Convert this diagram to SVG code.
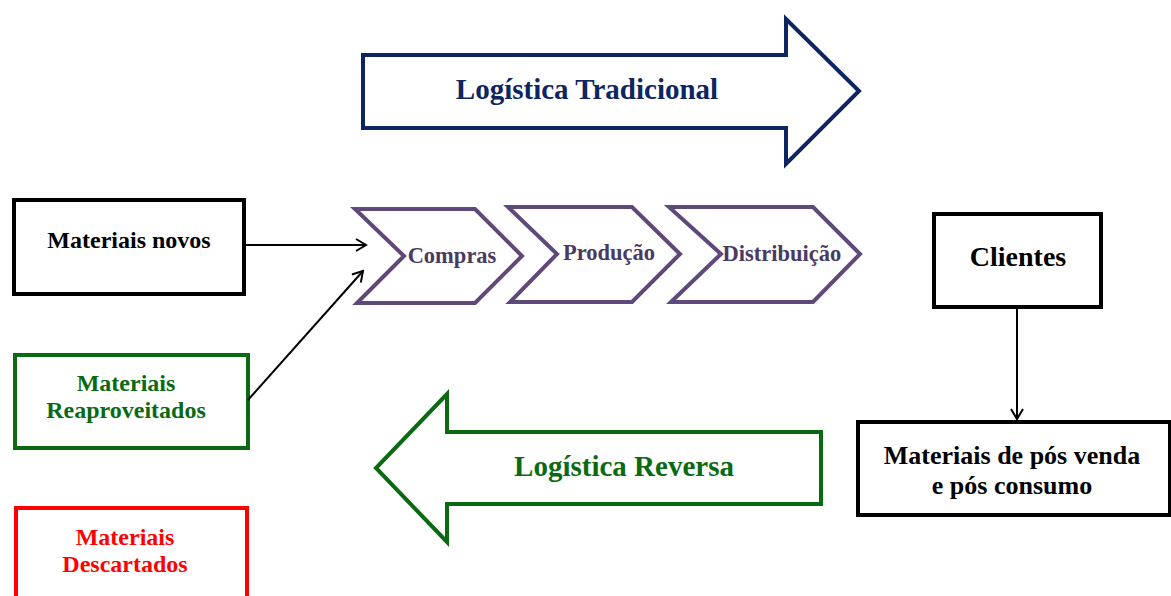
<svg xmlns="http://www.w3.org/2000/svg" width="1171" height="596" viewBox="0 0 1171 596">
<defs>
<marker id="arr" markerWidth="14" markerHeight="14" viewBox="0 0 14 14" refX="12" refY="7" orient="auto" markerUnits="userSpaceOnUse">
<path d="M2,1 L12,7 L2,13" fill="none" stroke="#000" stroke-width="2"/>
</marker>
<style>
text{font-family:"Liberation Serif","Times New Roman",serif;font-weight:bold;text-anchor:middle}
.box{fill:#fff;stroke-width:4}
.chev{fill:#fff;stroke:#5f497a;stroke-width:4;stroke-linejoin:miter}
.chevt{fill:#4a3a62;font-size:22.5px}
.conn{stroke:#000;stroke-width:2;fill:none}
</style>
</defs>
<rect width="1171" height="596" fill="#fff"/>

<g id="logistica-tradicional">
<path d="M363,55 L786,55 L786,19 L859,91 L786,164 L786,128 L363,128 Z" fill="#fff" stroke="#0d2560" stroke-width="4"/>
<text x="587" y="99" font-size="29" fill="#0d2560">Logística Tradicional</text>
</g>

<g id="materiais-novos">
<rect class="box" x="14" y="200" width="230" height="94" stroke="#000"/>
<text x="129" y="248" font-size="24" fill="#000">Materiais novos</text>
</g>

<g id="materiais-reaproveitados">
<rect class="box" x="15" y="355" width="233" height="93" stroke="#0a6a12"/>
<text x="126" y="391" font-size="24" fill="#0a6a12">Materiais</text>
<text x="126" y="418" font-size="24" fill="#0a6a12">Reaproveitados</text>
</g>

<g id="materiais-descartados">
<rect class="box" x="16" y="508" width="231" height="100" stroke="#ff0000"/>
<text x="125" y="545" font-size="24" fill="#ff0000">Materiais</text>
<text x="125" y="572" font-size="24" fill="#ff0000">Descartados</text>
</g>

<g id="compras">
<path class="chev" d="M355,209 L475,209 L522,256 L475,303 L357,303 L404,256 Z"/>
<text class="chevt" x="452" y="263">Compras</text>
</g>

<g id="producao">
<path class="chev" d="M508,207 L632,207 L680,254 L632,302 L510,302 L557,254 Z"/>
<text class="chevt" x="609" y="260">Produção</text>
</g>

<g id="distribuicao">
<path class="chev" d="M669,207 L813,207 L860,254 L813,302 L671,302 L721,254 Z"/>
<text class="chevt" x="782" y="261">Distribuição</text>
</g>

<g id="clientes">
<rect class="box" x="934" y="214" width="167" height="93" stroke="#000"/>
<text x="1018" y="266" font-size="28" fill="#000">Clientes</text>
</g>

<g id="materiais-pos">
<rect class="box" x="858" y="422" width="312" height="93" stroke="#000"/>
<text x="1012" y="464" font-size="26" fill="#000">Materiais de pós venda</text>
<text x="1012" y="494" font-size="26" fill="#000">e pós consumo</text>
</g>

<g id="logistica-reversa">
<path d="M821,432 L821,504 L447,504 L447,542 L376,468 L447,394 L447,432 Z" fill="#fff" stroke="#0a6a12" stroke-width="4"/>
<text x="624" y="476" font-size="29" fill="#0a6a12">Logística Reversa</text>
</g>

<g id="connectors">
<line class="conn" x1="245" y1="245" x2="366" y2="245" marker-end="url(#arr)"/>
<line class="conn" x1="248" y1="400" x2="363" y2="271" marker-end="url(#arr)"/>
<line class="conn" x1="1017" y1="308" x2="1017" y2="419" marker-end="url(#arr)"/>
</g>
</svg>
